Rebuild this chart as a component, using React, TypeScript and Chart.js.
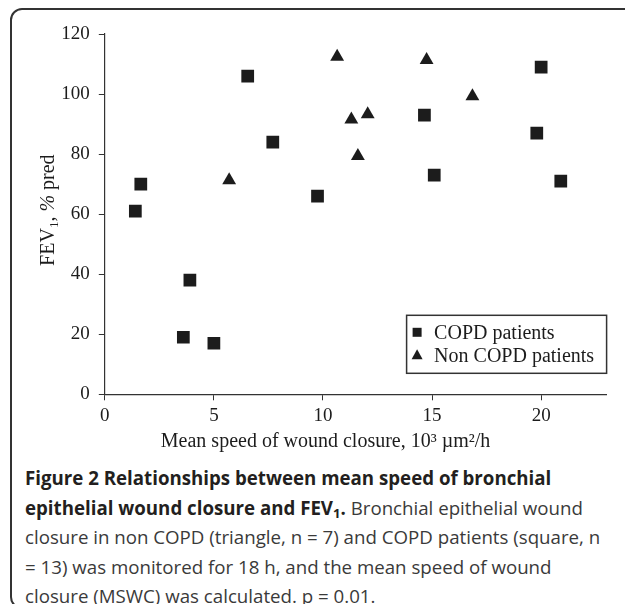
import React, { useEffect, useRef } from 'react';
import { Chart, registerables } from 'chart.js';

Chart.register(...registerables);

// ---- Data ----
const copdSpeed = [1.4, 1.65, 3.6, 3.9, 5.0, 6.55, 7.7, 9.75, 14.65, 15.1, 19.8, 20.0, 20.9];
const copdFev1 = [61, 70, 19, 38, 17, 106, 84, 66, 93, 73, 87, 109, 71];
const nonCopdSpeed = [5.7, 10.65, 11.3, 11.6, 12.05, 14.75, 16.85];
const nonCopdFev1 = [71.3, 112.4, 91.5, 79.4, 93.3, 111.3, 99.3];
const seriesLabels = ['COPD patients', 'Non COPD patients'];
const xTicks = [0, 5, 10, 15, 20];
const yTicks = [0, 20, 40, 60, 80, 100, 120];
const xTitle = 'Mean speed of wound closure, 10³ µm²/h';

const SERIF = "'Liberation Serif', 'Times New Roman', serif";
const INK = '#1c1c1c';

const titlesAndLegend = {
  id: 'titlesAndLegend',
  afterDraw(chart: any) {
    const { ctx, chartArea } = chart;
    ctx.save();
    // X axis title
    ctx.fillStyle = INK;
    ctx.font = `20px ${SERIF}`;
    ctx.textAlign = 'center';
    ctx.textBaseline = 'middle';
    ctx.fillText(xTitle, chartArea.left + 0.44 * (chartArea.right - chartArea.left), chartArea.bottom + 47);

    // Y axis title: FEV₁, % pred (rotated)
    ctx.save();
    ctx.translate(chartArea.left - 58, (chartArea.top + chartArea.bottom) / 2 - 4);
    ctx.rotate(-Math.PI / 2);
    ctx.textBaseline = 'alphabetic';
    ctx.textAlign = 'left';
    const parts: [string, string, number][] = [
      ['FEV', `20px ${SERIF}`, 0],
      ['1', `13px ${SERIF}`, 4],
      [', ', `20px ${SERIF}`, 0],
      ['%', `italic 20px ${SERIF}`, 0],
      [' pred', `20px ${SERIF}`, 0],
    ];
    let total = 0;
    for (const [t, f] of parts) { ctx.font = f; total += ctx.measureText(t).width; }
    let x = -total / 2;
    for (const [t, f, dy] of parts) {
      ctx.font = f;
      ctx.fillText(t, x, 7 + dy);
      x += ctx.measureText(t).width;
    }
    ctx.restore();

    // Legend box inside the plot area, bottom right
    const boxW = 200, boxH = 58;
    const bx = chartArea.right - boxW;
    const by = chartArea.bottom - 21 - boxH;
    ctx.fillStyle = '#ffffff';
    ctx.fillRect(bx, by, boxW, boxH);
    ctx.strokeStyle = '#333333';
    ctx.lineWidth = 1.5;
    ctx.strokeRect(bx, by, boxW, boxH);
    const rows = [by + 17, by + 40];
    chart.data.datasets.forEach((ds: any, i: number) => {
      const cy = rows[i];
      const cx = bx + 10.5;
      ctx.fillStyle = INK;
      ctx.beginPath();
      if (ds.pointStyle === 'rect') {
        ctx.rect(cx - 4.5, cy - 4.5, 9, 9);
      } else {
        ctx.moveTo(cx, cy - 6);
        ctx.lineTo(cx + 5.5, cy + 4);
        ctx.lineTo(cx - 5.5, cy + 4);
        ctx.closePath();
      }
      ctx.fill();
      ctx.font = `20px ${SERIF}`;
      ctx.textAlign = 'left';
      ctx.textBaseline = 'middle';
      ctx.fillText(ds.label, bx + 27.5, cy + 1);
    });
    ctx.restore();
  },
};

function ScatterChart() {
  const ref = useRef<HTMLCanvasElement | null>(null);
  useEffect(() => {
    if (!ref.current) return;
    const chart = new Chart(ref.current, {
      type: 'scatter',
      data: {
        datasets: [
          {
            label: seriesLabels[0],
            data: copdSpeed.map((v, i) => ({ x: v, y: copdFev1[i] })),
            pointStyle: 'rect',
            pointRadius: 9,
            pointHoverRadius: 9,
            backgroundColor: INK,
            borderWidth: 0,
          },
          {
            label: seriesLabels[1],
            data: nonCopdSpeed.map((v, i) => ({ x: v, y: nonCopdFev1[i] })),
            pointStyle: 'triangle',
            pointRadius: 8,
            pointHoverRadius: 8,
            backgroundColor: INK,
            borderWidth: 0,
          },
        ],
      },
      options: {
        animation: false,
        responsive: false,
        devicePixelRatio: 1,
        layout: { padding: { left: 0, top: 34, right: 18.4, bottom: 0 } },
        plugins: { legend: { display: false }, tooltip: { enabled: false } },
        scales: {
          x: {
            type: 'linear',
            min: 0,
            max: 23,
            afterBuildTicks: (s: any) => { s.ticks = xTicks.map((v) => ({ value: v })); },
            afterFit: (s: any) => { s.height = 65.7; },
            ticks: { font: { family: SERIF, size: 19 }, color: INK, padding: 4, maxRotation: 0 },
            grid: { display: true, drawOnChartArea: false, drawTicks: true, tickLength: 6, color: '#333' },
            border: { display: true, color: '#333', width: 1.2 },
          },
          y: {
            type: 'linear',
            min: 0,
            max: 120,
            afterBuildTicks: (s: any) => { s.ticks = yTicks.map((v) => ({ value: v })); },
            afterFit: (s: any) => { s.width = 104.8; },
            ticks: { font: { family: SERIF, size: 19 }, color: INK, padding: 9 },
            grid: { display: true, drawOnChartArea: false, drawTicks: true, tickLength: 6, color: '#333' },
            border: { display: true, color: '#333', width: 1.2 },
          },
        },
      },
      plugins: [titlesAndLegend],
    });
    return () => chart.destroy();
  }, []);
  return <canvas ref={ref} width={625} height={460} style={{ position: 'absolute', left: 0, top: 0, width: 625, height: 460 }} />;
}

const CAPTION_FONT = "'Open Sans', 'Noto Sans', sans-serif";

export default function App() {
  const lineStyle: React.CSSProperties = { whiteSpace: 'nowrap', height: 29.5 };
  const sub: React.CSSProperties = { fontSize: '0.7em', position: 'relative', top: '0.3em', verticalAlign: 'baseline' };
  return (
    <div style={{ position: 'fixed', left: 0, top: 0, width: 625, height: 604, overflow: 'hidden', background: '#fff' }}>
      <div
        style={{
          position: 'absolute', left: 10, top: 8, width: 640, height: 601, boxSizing: 'border-box',
          border: '2px solid #333', borderRadius: 12,
        }}
      />
      <ScatterChart />
      <div
        style={{
          position: 'absolute', left: 25, top: 463, fontFamily: CAPTION_FONT, fontSize: 18.7,
          lineHeight: '29.5px', color: '#3a3a3a',
        }}
      >
        <div style={lineStyle}><b style={{ color: '#231f20' }}>Figure 2 Relationships between mean speed of bronchial</b></div>
        <div style={lineStyle}><b style={{ color: '#231f20' }}>epithelial wound closure and FEV<span style={sub}>1</span>.</b> Bronchial epithelial wound</div>
        <div style={lineStyle}>closure in non COPD (triangle, n = 7) and COPD patients (square, n</div>
        <div style={lineStyle}>= 13) was monitored for 18 h, and the mean speed of wound</div>
        <div style={lineStyle}>closure (MSWC) was calculated. p = 0.01.</div>
      </div>
    </div>
  );
}
